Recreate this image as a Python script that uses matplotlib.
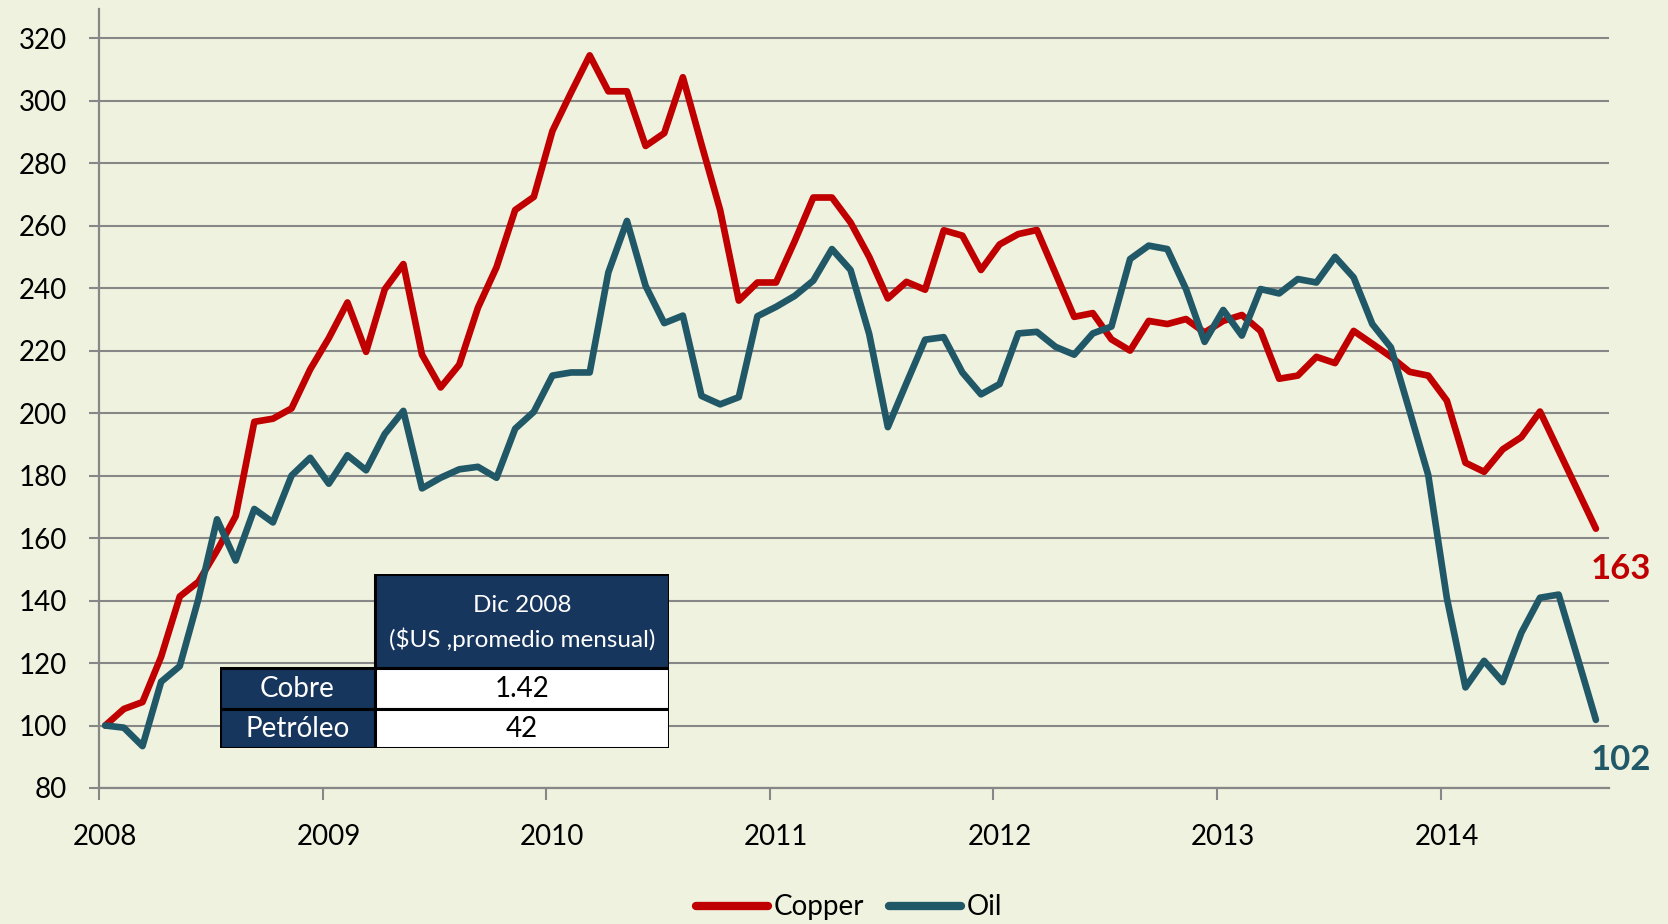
import numpy as np
import matplotlib
matplotlib.use('Agg')
import matplotlib.pyplot as plt
from matplotlib.patches import Rectangle
from matplotlib.lines import Line2D

# monthly index (Dic 2008 = 100)
years = ['2008', '2009', '2010', '2011', '2012', '2013', '2014']
copper = [
    100, 105.3, 107.5, 122, 141.3, 146, 156, 167, 197.2, 198.2,
    201.5, 214, 224, 235.4, 219.6, 239.6, 247.7, 218.7, 208.2, 215.5,
    233.7, 246.7, 265, 269.2, 290.3, 302.6, 314.5, 303, 303, 285.5,
    289.6, 307.5, 286, 265, 236, 241.8, 241.8, 255, 269, 269,
    261, 250, 236.7, 242, 239.5, 258.5, 256.8, 245.8, 254, 257.3,
    258.6, 244.7, 230.8, 232, 223.6, 220, 229.5, 228.5, 230.1, 225.8,
    229.5, 231.4, 226.3, 211, 212, 218, 216, 226.3, 222.2, 218,
    213.2, 212, 204, 184.1, 181.2, 188.4, 192.3, 200.5, 188, 175.5,
    163,
]
oil = [
    100, 99.3, 93.4, 114, 119, 140.5, 166, 152.8, 169.3, 165,
    180, 185.7, 177.4, 186.5, 181.7, 193.3, 200.7, 175.9, 179.3, 182,
    182.8, 179.3, 195, 200.4, 212, 213, 213, 245, 261.5, 240.7,
    228.8, 231.2, 205.5, 202.8, 205.1, 231, 234, 237.5, 242.4, 252.5,
    245.8, 225.3, 195.5, 209.6, 223.5, 224.3, 213, 206, 209.3, 225.5,
    226, 221.2, 218.7, 225.5, 227.7, 249.3, 253.6, 252.5, 239.7, 222.8,
    233, 224.8, 239.7, 238.3, 242.9, 241.8, 250, 243.4, 228.5, 221,
    200.7, 180.2, 140.8, 112.2, 120.7, 113.9, 129.7, 140.9, 141.9, 122,
    101.8,
]
table_header = ['Dic 2008', '($US ,promedio mensual)']
table_rows = ['Cobre', 'Petróleo']
table_values = ['1.42', '42']

BG = '#EFF2DE'
RED = '#C00000'
TEAL = '#215868'
NAVY = '#17365D'
GRID = '#878787'

plt.rcParams['font.family'] = ['Lato', 'DejaVu Sans']

fig = plt.figure(figsize=(16.68, 9.24), dpi=100, facecolor=BG)
ax = fig.add_axes([0.0594, 0.1472, 0.9052, 0.8436])
ax.set_facecolor(BG)

months = np.arange(len(copper))
ax.plot(months, copper, color=RED, lw=4.8, solid_capstyle='round', label='Copper', zorder=3)
ax.plot(months, oil, color=TEAL, lw=4.8, solid_capstyle='round', label='Oil', zorder=3)

ax.set_xlim(-0.3, 80.7)
ax.set_ylim(80, 329.5)
ax.set_yticks(np.arange(80, 321, 20))
ax.yaxis.grid(True, color=GRID, lw=1.5)
ax.set_axisbelow(True)
ax.tick_params(axis='y', length=7.2, width=1.5, color=GRID, pad=16, labelsize=20)

# tick marks between months, labels centred on the January point
ax.set_xticks(np.arange(0, 84, 12) - 0.33)
ax.set_xticklabels([])
ax.tick_params(axis='x', which='major', length=8.6, width=1.5, color=GRID)
ax.set_xticks(np.arange(0, 84, 12), minor=True)
ax.set_xticklabels(years, minor=True)
ax.tick_params(axis='x', which='minor', length=0, pad=26, labelsize=20)

for s in ['top', 'right']:
    ax.spines[s].set_visible(False)
for s in ['left', 'bottom']:
    ax.spines[s].set_color(GRID)
    ax.spines[s].set_linewidth(1.6)

# end labels
ax.annotate(f'{copper[-1]:.0f}', xy=(months[-1], copper[-1]), xytext=(-4, -29),
            textcoords='offset points', color=RED, fontsize=25, fontweight='bold',
            ha='left', va='center', annotation_clip=False)
ax.annotate(f'{oil[-1]:.0f}', xy=(months[-1], oil[-1]), xytext=(-4, -29),
            textcoords='offset points', color=TEAL, fontsize=25, fontweight='bold',
            ha='left', va='center', annotation_clip=False)

# legend
handles = [Line2D([], [], color=RED, lw=6, solid_capstyle='round'),
           Line2D([], [], color=TEAL, lw=6, solid_capstyle='round')]
fig.legend(handles, ['Copper', 'Oil'], loc='center', bbox_to_anchor=(0.509, 0.018),
           ncol=2, frameon=False, fontsize=20, handlelength=2.6,
           handletextpad=0.2, columnspacing=0.9)

# small table with base prices
tab = fig.add_axes([0.1318, 0.1901, 0.2695, 0.1886])
tab.set_xlim(0, 1)
tab.set_ylim(0, 1)
tab.axis('off')
split = 0.3445
row_h = [0.233, 0.226]
tab.add_patch(Rectangle((split, 0.459), 1 - split, 0.541, facecolor=NAVY,
                        edgecolor='black', lw=2.2))
tab.text((split + 1) / 2, 0.822, table_header[0], color='white', fontsize=17.5,
         ha='center', va='center')
tab.text((split + 1) / 2, 0.625, table_header[1], color='white', fontsize=17.5,
         ha='center', va='center')
y0 = 0.459
for name, val, h in zip(table_rows, table_values, row_h):
    yb = y0 - h
    tab.add_patch(Rectangle((0, yb), split, h, facecolor=NAVY, edgecolor='black', lw=2.2))
    tab.add_patch(Rectangle((split, yb), 1 - split, h, facecolor='white',
                            edgecolor='black', lw=2.2))
    tab.text(split / 2, yb + h / 2, name, color='white', fontsize=20,
             ha='center', va='center')
    tab.text((split + 1) / 2, yb + h / 2, val, color='black', fontsize=20,
             ha='center', va='center')
    y0 = yb

fig.savefig('out.png', dpi=100, facecolor=BG)
